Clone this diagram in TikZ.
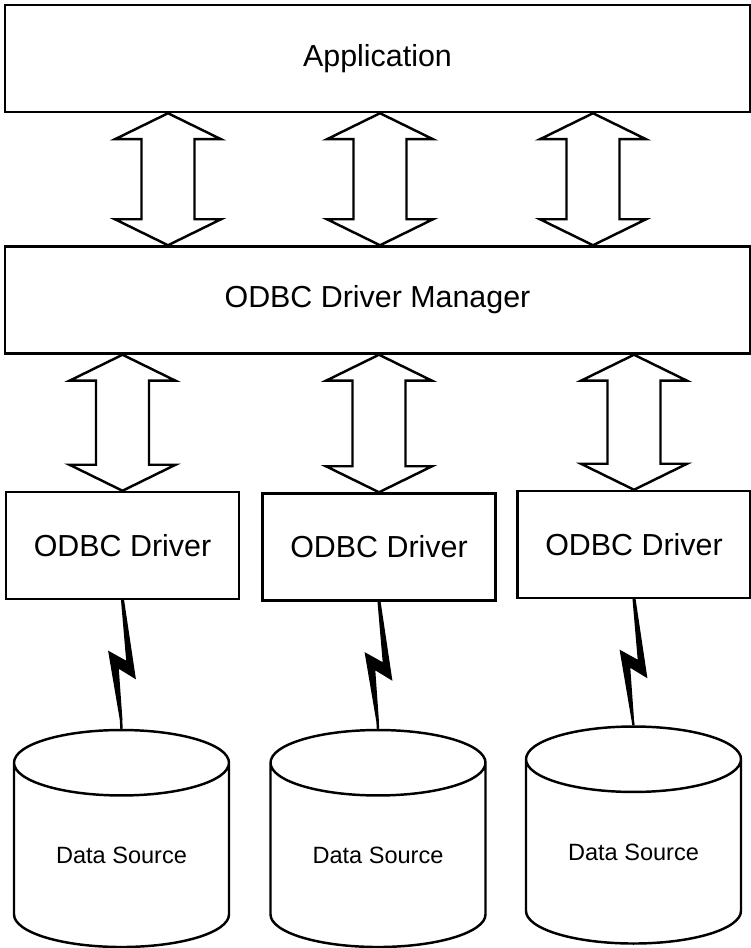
\documentclass[tikz,border=0pt]{standalone}
\usepackage{fontspec}
\setmainfont{Liberation Sans}
\usetikzlibrary{shapes.geometric,calc,positioning}

% hollow double arrow, tip on #1, tip on #2 (x taken from #1)
\newcommand{\fatarrow}[2]{%
  \draw[fatarr] let \p1=(#1), \p2=(#2) in
    (\x1,\y1) -- ++(1.06,-0.52) -- ++(-0.53,0) -- (\x1+0.53cm,\y2+0.52cm)
    -- ++(0.53,0) -- (\x1,\y2) -- ++(-1.06,0.52) -- ++(0.53,0)
    -- (\x1-0.53cm,\y1-0.52cm) -- ++(-0.53,0) -- cycle;}

\begin{document}
\begin{tikzpicture}[
   line width=1.4pt, font=\fontsize{17.3}{20}\selectfont,
   blk/.style={draw,minimum width=4.66cm,minimum height=2.14cm,inner sep=0pt},
   wide/.style={blk,minimum width=14.9cm},
   store/.style={draw,cylinder,shape border rotate=90,aspect=0.5,inner sep=0pt,
     minimum width=4.3cm,minimum height=4.34cm,font=\fontsize{13.4}{16}\selectfont},
   fatarr/.style={line join=miter},
   bolt/.pic={
     \fill[draw,line width=0.8pt] (-0.016,0) -- (0.018,0) -- (0.25,-1.554) -- (-0.09,-1.346)
       -- (-0.016,-2.38) -- (-0.042,-2.38) -- (-0.27,-1.034) -- (0.09,-1.234) -- cycle;
     \coordinate (-end) at (-0.03,-2.38);}]
  \useasboundingbox (0,0) rectangle (15.02,18.96);
  \node[wide] (app) at (7.55,17.79) {Application};
  \node[wide] (mgr) at (7.55,12.96) {ODBC Driver Manager};
  \node[blk] (d1) at (2.45,8.05) {ODBC Driver};
  \node[blk] (d2) at (7.58,8.02) {ODBC Driver};
  \node[blk] (d3) at (12.68,8.07) {ODBC Driver};
  \node[store] (ds1) at (2.43,1.85) {Data Source};
  \node[store] (ds2) at (7.56,1.85) {Data Source};
  \node[store] (ds3) at (12.67,1.92) {Data Source};
  % application <-> manager
  \fatarrow{$(app.south)+(-4.19,0)$}{mgr.north}
  \fatarrow{$(app.south)+(0.05,0)$}{mgr.north}
  \fatarrow{$(app.south)+(4.31,0)$}{mgr.north}
  % manager <-> drivers
  \fatarrow{mgr.south -| d1.north}{d1.north}
  \fatarrow{mgr.south -| d2.north}{d2.north}
  \fatarrow{mgr.south -| d3.north}{d3.north}
  % drivers to data sources
  \pic (b1) at (d1.south) {bolt};
  \pic (b2) at (d2.south) {bolt};
  \pic (b3) at (d3.south) {bolt};
  \draw (b1-end) -- (ds1.top);
  \draw (b2-end) -- (ds2.top);
  \draw (b3-end) -- (ds3.top);
\end{tikzpicture}
\end{document}
